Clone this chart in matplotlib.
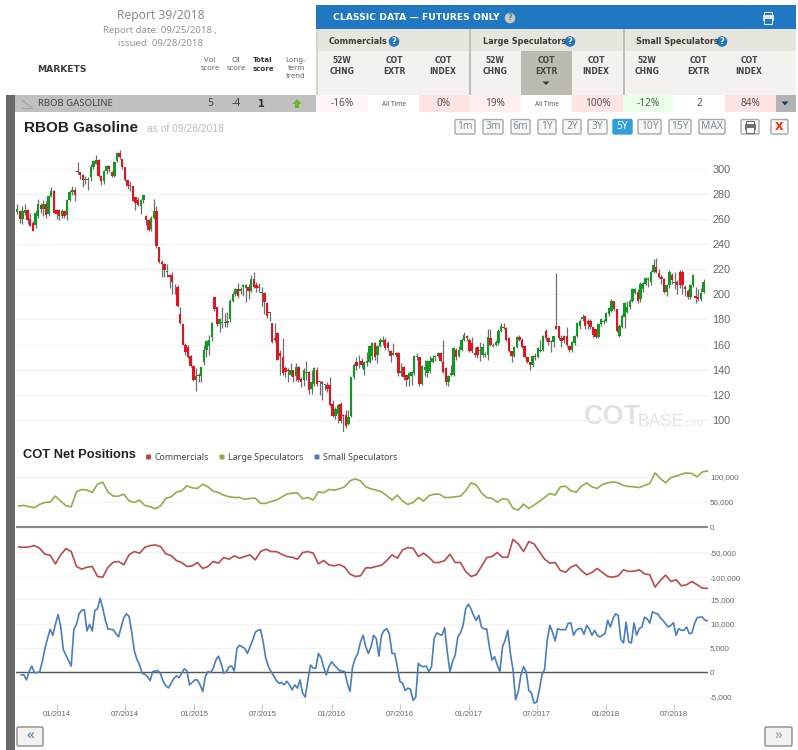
import numpy as np
import pandas as pd
import matplotlib
matplotlib.use('Agg')
import matplotlib.pyplot as plt
import matplotlib.dates as mdates
from matplotlib.patches import Rectangle, FancyBboxPatch, Polygon, Circle

# weekly RBOB candles
opens = [265.5,266,260,265,267,260,257,255,262,271,
    268,272,264,278,282,267,267,262,266,263,
    275,281,283,298,297,295,291,291,293,301,
    304,307,294,290,298,302,297,294,306,312,
    308,301,291,287,286,277,275,270,275,262,
    259,252,261,266,238,226,224,218,215,215,
    207,206,184,176,160,158,151,143,132,136,
    135,146,156,159,166,198,190,176,177,178,
    177,180,195,200,204,203,206,205,206,203,
    212,207,206,201,201,193,186,177,165,169,
    153,150,141,140,136,140,135,142,133,132,
    137,138,125,129,140,130,130,128,128,128,
    113,103,105,113,104,104,97,103,134,146,
    146,147,140,145,146,151,161,152,159,162,
    164,161,155,152,153,153,137,142,136,133,
    135,137,150,150,129,140,137,139,146,150,
    151,153,146,141,130,136,136,156,151,156,
    164,167,164,161,153,158,155,152,152,152,
    165,159,160,161,171,174,173,165,155,151,
    158,166,164,159,150,146,144,151,150,155,
    156,171,165,162,162,175,175,165,167,167,
    159,156,161,167,175,180,183,179,179,174,
    172,166,176,178,179,184,187,195,188,167,
    174,182,186,190,195,201,202,196,204,208,
    211,210,218,222,217,214,212,202,207,215,
    209,210,218,218,206,203,198,207,199,198,
    196,202]
closes = [267.5,260,266,267,259,254,250,265,272,268,
    272,263,278,282,265,264,262,266,262,275,
    281,283,279,297,295,291,291.5,292,301,306,
    307,294,290,298,302,300,294,305,312,309,
    301,291,286,286,274,273,271,275,279,259,
    251,261,266,238.5,226,224,219,218.5,214,210,
    207.5,191,177,160,154,150,143,132,135,135,
    142,156,163,164,177,188,176,180,178,177,
    179,195,200,204,199,204,207,207,203,212,
    206,205,205,202,194,183,185,162,164,148,
    151,137,138,139,140,134,142,132,130,140,
    138,124,130,141,129,131,129,129,125,112,
    103,109,112,99,103,95,102,134,144,143,
    146.5,144,146,147,159,161,150,159,164,164,
    157,157,151,153,152,137,139,134,132,137,
    138,151,151,129,143,142,147,147,149,151,
    153,147,138,130,135,137,157,150,156,164,
    168,165,155,155,152,152,156,158,152.5,166,
    160,160,162,171,175,173,164,155,151,158,
    166,164,158,150,146,144,151,150,157,156,
    167,165,162,163,167,172,165,163,164,160,
    156,162,167,177,179,182,175,176,174,168,
    166,176,180,179,185,189,195,188,171,175,
    183,193,190,195,204,204,195,208,209,213,
    212,218,223,218,214,212,202,207,218,211,
    210,207,207,207,204,197.5,207,215,197,196,
    201,210]
highs = [272,267,270,272,268,265,258,267,276,273,
    275,274,279,285,283,268,268,268,267,276,
    283,286,285,305,297,296,294,293,304,307,
    311,308,295,299,303,303,298,306,313,315,
    308,301,291,290,286,277,277,276,279,263,
    260,262,276,270,238,227,225,224,216,218,
    208,207,190,176,161,160,152,144,141,137,
    142,160,164,168,178,198,190,181,190,185,
    186,196,202,205,209,206,208,208,208,215,
    218,210,209,206,202,194,186,177,177,170,
    156,165,143,141,145,140,145,143,134,141,
    147,139,140,142,142,131,131,129,130,134,
    116,110,113,114,105,108,108,134,145,150,
    152,149,147,154,160,162,162,160,165,167,
    165,163,156,161,154,154,145,143,136,138,
    139,152,153,150,144,148,148,151,152,152,
    154,154,164,142,136,144,158,157,159,165,
    170,168,165,166,158,159,162,161,154,172,
    172,161,164,172,177,177,174,166,155,159,
    167,168,165,160,150,146,152,153,158,164,
    168,172,166,164,167,217,175,168,168,174,
    160,163,168,178,180,184,183,180,180,174,
    172,177,181,180,186,190,196,195,188,176,
    184,194,195,196,205,205,204,210,210,214,
    214,219,228,229,220,215,213,208,219,217,
    218,211,219,219,207,204,208,216,206,204,
    205,212]
lows = [264,257,256,263,256,254,250,253,261,265,
    262,261,262,277,265,260,259,261,261,259,
    274,279,274,296,292,285,288,283,290,300,
    304,293,287,288,296,297,293,293,305,308,
    300,290,284,282,274,267,270,264,273,255,
    250,250,260,237,225,214,214,214,205,200,
    200,190,176,160,152,149,142,131,123,130,
    130,144,150,152,163,187,175,170,173,174,
    174,178,194,199,197,200,199,194,196,202,
    205,202,202,191,184,181,179,161,162,148,
    136,136,134,130,135,130,131,130,126,127,
    132,121,121,127,127,120,116,124,122,111,
    102,101,98,98,90,94,96,102,133,140,
    141,141,136,143,145,148,148,145,158,160,
    156,155,146,152,150,135,135,132,127,127,
    128,136,148,127,128,135,134,137,145,147,
    150,146,137,128,127,135,135,148,150,155,
    163,163,154,153,150,149,147,150,150,148,
    159,158,159,160,170,172,163,154,146,150,
    157,163,157,149,145,140,142,148,149,154,
    155,163,160,154,158,172,164,158,161,158,
    154,154,160,166,172,179,172,172,172,166,
    165,165,175,176,178,183,186,187,170,166,
    173,173,185,188,194,200,193,194,202,207,
    206,207,217,217,213,208,201,199,205,208,
    204,200,205,200,199,196,196,206,193,195,
    195,201]

# net positions in thousands, large / commercials read every 2 weeks
large_spec = [41.6,42.9,40.3,38.3,44.9,48.8,49.5,61.4,51.5,42.2,
    40.3,70.0,74.6,73.3,68.6,85.1,89.1,69.3,61.4,61.4,
    65.3,52.1,48.8,53.5,42.9,40.3,36.3,42.2,56.8,60.1,
    69.3,71.9,81.8,77.9,76.6,85.1,79.9,71.3,68.6,63.4,
    60.1,58.7,58.7,54.8,56.8,57.4,46.9,46.9,50.8,53.5,
    59.4,65.3,67.3,68.0,56.1,58.7,53.5,70.0,68.0,74.6,
    73.3,75.9,79.9,91.7,95.7,91.7,79.9,75.9,73.3,70.0,
    62.0,53.5,63.4,51.5,44.9,48.8,58.7,51.5,62.0,65.3,
    65.3,58.7,58.7,60.1,61.4,71.9,87.8,83.8,68.0,58.7,
    56.8,49.5,56.1,54.8,37.0,33.7,45.5,37.0,43.6,50.8,
    58.7,66.7,63.4,79.9,81.2,71.9,69.3,81.2,87.8,79.9,
    76.6,84.5,87.8,89.8,87.8,82.5,80.5,79.9,78.5,82.5,
    86.5,107.6,96.4,87.8,98.3,101.0,104.9,107.6,106.3,99.7,
    109.6,111.5]
commercials = [-39.6,-40.3,-39.6,-37.0,-42.2,-54.1,-56.1,-73.3,-55.4,-42.9,
    -48.8,-78.5,-83.8,-79.9,-78.5,-98.3,-99.7,-79.9,-70.0,-68.6,
    -75.2,-55.4,-48.8,-52.1,-40.3,-37.0,-35.6,-38.9,-53.5,-56.8,
    -66.7,-70.6,-78.5,-77.2,-70.6,-82.5,-78.5,-68.6,-71.9,-60.7,
    -64.0,-57.4,-62.0,-58.7,-55.4,-65.3,-48.8,-44.2,-48.8,-48.8,
    -54.1,-58.7,-60.1,-64.0,-50.8,-48.8,-52.1,-73.3,-66.7,-75.2,
    -77.2,-74.6,-79.9,-93.7,-98.3,-97.0,-81.2,-81.2,-78.5,-75.9,
    -66.7,-55.4,-62.0,-45.5,-40.9,-42.2,-58.7,-52.1,-60.1,-70.6,
    -70.6,-66.7,-54.1,-70.6,-70.6,-88.4,-98.3,-95.0,-78.5,-60.7,
    -58.7,-50.8,-60.1,-60.1,-24.4,-33.7,-48.8,-29.0,-33.7,-48.8,
    -64.0,-71.9,-70.6,-86.5,-89.8,-79.9,-75.2,-86.5,-95.0,-90.4,
    -82.5,-90.4,-98.3,-99.7,-97.0,-85.1,-88.4,-87.8,-85.1,-93.1,
    -95.0,-119.5,-106.3,-95.7,-108.2,-104.9,-116.8,-114.8,-108.2,-114.8,
    -121.4,-122.1]
# small specs weekly, in thousands
small_spec = [-0.54,-0.54,-1.56,0.14,1.29,-0.07,-0.07,0.07,2.18,4.90,
    6.94,8.84,7.62,9.86,11.90,9.45,4.69,3.47,2.38,1.29,
    8.77,9.86,12.04,12.78,12.85,8.50,9.86,8.50,12.72,13.06,
    15.23,13.19,10.68,8.91,8.84,8.77,7.96,7.28,9.32,11.22,
    12.04,11.49,8.30,4.42,2.65,1.50,-0.20,-0.41,-0.88,-1.70,
    0.14,0.27,0.34,-0.34,-1.90,-2.79,-3.20,-2.24,-1.29,-0.75,
    -1.09,-0.20,0.75,0.27,-2.58,-2.11,-1.56,-1.56,-2.58,-3.94,
    -0.88,0.14,-0.07,0.82,2.52,3.33,1.84,-0.20,0.07,1.16,
    1.29,0.27,4.90,5.58,5.24,4.90,3.88,5.24,6.60,8.23,
    8.64,8.77,6.26,2.86,1.16,0.14,-0.75,-1.70,-2.24,-2.11,
    -2.58,-1.84,-2.58,-3.60,-2.58,-3.26,-1.56,-4.28,-5.10,-1.56,
    1.50,0.88,0.82,3.88,3.06,1.02,-0.54,1.16,2.18,1.50,
    0.95,0.34,0.27,0.14,-2.24,-3.94,1.16,2.86,3.88,6.26,
    7.62,5.24,3.88,5.24,7.62,6.94,3.33,7.62,8.64,8.98,
    7.82,3.88,3.88,1.16,-1.90,-2.24,-3.74,-3.26,-3.47,-5.78,
    -5.10,1.84,1.29,1.16,1.29,0.14,1.16,6.94,8.09,7.82,
    7.62,9.18,4.22,0.14,2.18,3.54,7.28,8.09,9.66,13.06,
    14.01,13.06,11.70,10.68,11.70,9.32,8.91,8.91,5.24,2.52,
    3.20,1.50,0.14,5.24,6.60,8.64,3.88,0.48,-5.64,-3.94,
    -0.54,1.16,0.14,-3.74,-4.28,-6.32,-6.19,-3.60,-0.54,0.61,
    6.60,9.66,8.30,6.46,8.98,8.77,8.77,8.77,10.13,10.13,
    7.62,8.64,8.98,8.98,7.82,9.66,8.98,7.62,8.64,7.62,
    7.28,7.62,7.96,10.68,9.32,11.02,12.04,11.70,6.73,6.05,
    10.34,6.26,6.05,10.13,7.62,8.98,9.32,11.36,11.02,10.13,
    12.44,12.17,12.04,11.22,10.68,10.00,9.32,9.66,10.20,7.62,
    8.98,8.64,8.64,9.32,7.96,8.09,10.00,11.22,11.36,11.36,
    10.68,10.61]

price_ticks = [100,120,140,160,180,200,220,240,260,280,300]
upper_ticks = [-100,-50,0,50,100]
upper_labels = ['-100,000','-50,000','0','50,000','100,000']
lower_ticks = [-5,0,5,10,15]
lower_labels = ['-5,000','0','5,000','10,000','15,000']
date_ticks = ['2014-01-01','2014-07-01','2015-01-01','2015-07-01','2016-01-01',
    '2016-07-01','2017-01-01','2017-07-01','2018-01-01','2018-07-01']

col_heads = [('52W','CHNG',342),('COT','EXTR',394),('COT','INDEX',443),
    ('52W','CHNG',495),('COT','EXTR',546),('COT','INDEX',596),
    ('52W','CHNG',647),('COT','EXTR',698),('COT','INDEX',749)]
row_cells = [(316,368,'#fff6f5','-16%',7.2),(368,419,'white','All Time',4.6),(419,469,'#ffe4e3','0%',7.2),
    (469,521,'#fff0ef','19%',7.2),(521,572,'white','All Time',4.6),(572,623,'#ffe4e3','100%',7.2),
    (623,673,'#eaffe8','-12%',7.2),(673,725,'white','2',7.2),(725,776,'#ffe4e3','84%',7.2)]
buttons = [('1m',455,475),('3m',483,503),('6m',511,530),('1Y',538,556),('2Y',563,581),('3Y',588,607),
    ('5Y',613,632),('10Y',638,661),('15Y',669,691),('MAX',699,725)]

plt.rcParams['font.family'] = ['Noto Sans', 'DejaVu Sans']
W, H = 798, 750
fig = plt.figure(figsize=(W/100, H/100), dpi=100, facecolor='white')

def px_axes(l, t, r, b):
    ax = fig.add_axes([l/W, 1-b/H, (r-l)/W, (b-t)/H])
    ax.patch.set_alpha(0)
    for s in ax.spines.values():
        s.set_visible(False)
    return ax

bg = px_axes(0, 0, W, H)
bg.set_xlim(0, W)
bg.set_ylim(H, 0)
bg.axis('off')

def rect(x0, y0, x1, y1, color):
    bg.add_patch(Rectangle((x0, y0), x1-x0, y1-y0, facecolor=color, edgecolor='none'))

def txt(x, y, s, size=7, color='#555555', weight='normal', ha='center', family=None):
    # Noto Sans has no bold here, bold labels go through DejaVu
    if weight == 'bold' and family is None:
        family = 'DejaVu Sans'
    kw = {'family': family} if family else {}
    bg.text(x, y, s, fontsize=size, color=color, fontweight=weight, ha=ha, va='center', **kw)

def help_dot(x, y, fc='#1f78c1', tc='white'):
    bg.add_patch(Circle((x, y), 5.3, facecolor=fc, edgecolor='none'))
    txt(x, y, '?', 6, tc, 'bold')

def button(x0, x1, y0, y1, label, tc='#7d8f9c', fc='#f7f7f5', ec='#a8a8a8', size=7.4):
    bg.add_patch(FancyBboxPatch((x0, y0), x1-x0, y1-y0, boxstyle='round,pad=0,rounding_size=1.5',
                                facecolor=fc, edgecolor=ec, linewidth=1))
    if label:
        txt((x0+x1)/2, (y0+y1)/2, label, size, tc)

def printer(x, y, c, paper='white'):
    rect(x-4, y-6, x+4, y-2, paper)
    rect(x-5.5, y-2.5, x+5.5, y+3, c)
    rect(x-4, y+1, x+4, y+6, paper)
    bg.add_patch(Rectangle((x-4, y-6), 8, 12, facecolor='none', edgecolor=c, linewidth=0.8))

# header block
txt(161, 15, 'Report 39/2018', 8.7, '#8c8c8c')
txt(160, 30.5, 'Report date: 09/25/2018 ,', 6.9, '#939393')
txt(161, 43, 'issued: 09/28/2018', 6.9, '#939393')
txt(37, 70, 'MARKETS', 6.6, '#3c3c3c', 'bold', ha='left')
txt(210, 60, 'Vol', 5.5, '#666666'); txt(210, 69, 'score', 5.5, '#666666')
txt(236, 60, 'OI', 5.5, '#666666'); txt(236, 69, 'score', 5.5, '#666666')
txt(263, 60, 'Total', 5.1, '#333333', 'bold'); txt(263, 69, 'score', 5.1, '#333333', 'bold')
txt(296, 60, 'Long-', 5.5, '#666666'); txt(296, 69, 'term', 5.5, '#666666'); txt(296, 77, 'trend', 5.5, '#666666')

rect(316, 4.5, 796, 29, '#1f78c1')
rect(316, 29, 796, 51, '#e7e5de')
rect(316, 51, 796, 95, '#f3f2ee')
rect(521, 51, 572, 95, '#bdbab3')
rect(316, 29, 317.5, 95, '#d4d3cd')
rect(469, 29, 471, 95, '#bfbeb8')
rect(622.5, 29, 624.5, 95, '#bfbeb8')
txt(333, 18, 'CLASSIC DATA — FUTURES ONLY', 6.7, 'white', 'bold', ha='left')
help_dot(510, 18, '#c9c9c5', '#5f7f96')
printer(768, 17.5, '#dfe6ea', '#1f78c1')
txt(329, 41.5, 'Commercials', 5.9, '#3c3c3c', 'bold', ha='left')
help_dot(394, 41.5)
txt(483, 41.5, 'Large Speculators', 5.9, '#3c3c3c', 'bold', ha='left')
help_dot(570, 41.5)
txt(636, 41.5, 'Small Speculators', 5.9, '#3c3c3c', 'bold', ha='left')
help_dot(722, 41.5)
for top, bot, x in col_heads:
    txt(x, 60.5, top, 5.5, '#444444', 'bold')
    txt(x, 72, bot, 5.5, '#444444', 'bold')
bg.add_patch(Polygon([[542.5, 81.5], [549.5, 81.5], [546, 85]], facecolor='#333333', edgecolor='none'))

# market row
rect(6, 95, 15, 750, '#6c696c')
rect(15, 95, 316, 112, '#c0c0c0')
bg.plot([22, 32], [100, 108], color='#bb9a9a', lw=0.8)
bg.plot([22, 32], [108, 108], color='#a7a7a7', lw=0.8)
txt(38, 104, 'RBOB GASOLINE', 6.9, '#444444', ha='left')
txt(210, 104, '5', 7.4, '#444444')
txt(236, 104, '-4', 7.4, '#444444')
txt(261, 104, '1', 7, '#333333', 'bold')
bg.add_patch(Polygon([[297, 99], [301.5, 104], [299, 104], [299, 108], [295, 108], [295, 104], [292.5, 104]],
                     facecolor='#6fb51e', edgecolor='none'))
for x0, x1, c, s, sz in row_cells:
    rect(x0, 95, x1, 112, c)
    txt((x0+x1)/2, 104, s, sz, '#555555')
rect(776, 95, 796, 112, '#b3b3b3')
bg.add_patch(Polygon([[781.5, 101.5], [788.5, 101.5], [785, 105.5]], facecolor='#1a3c7c', edgecolor='none'))

# chart title and range buttons
txt(23.5, 127.5, 'RBOB Gasoline', 11, '#222222', 'bold', ha='left', family='Liberation Sans')
txt(147, 129.5, 'as of 09/28/2018', 7.4, '#bcbcbc', ha='left', family='Liberation Sans')
for label, x0, x1 in buttons:
    if label == '5Y':
        button(x0, x1, 119.5, 134, label, 'white', '#2e9fdc', '#2e9fdc')
    else:
        button(x0, x1, 119.5, 134, label)
button(741, 759, 119.5, 134, '')
printer(750, 126.5, '#6e6e6e')
button(771, 788, 119.5, 134, '')
txt(779.5, 127, 'X', 8, '#f03010', 'bold')

# bottom nav
button(17, 43, 727, 746, '«', '#3d7fc0', '#f3f2ee', '#8a8a8a', 11)
button(765, 792, 727, 746, '»', '#8f9aa5', '#f3f2ee', '#8a8a8a', 11)

# COT legend row
txt(23, 455, 'COT Net Positions', 9.3, '#222222', 'bold', ha='left', family='Liberation Sans')
for x, c, name in [(148.5, '#b84c49', 'Commercials'), (222, '#8fae4e', 'Large Speculators'), (317, '#4a7ebb', 'Small Speculators')]:
    bg.add_patch(FancyBboxPatch((x-2.5, 454.5), 5, 5, boxstyle='round,pad=0,rounding_size=1', facecolor=c, edgecolor='none'))
    txt(x+6, 457, name, 6.4, '#444444', ha='left')

# watermark
txt(584, 417.5, 'COT', 19.5, '#e2e2e2', 'bold', ha='left', family='Liberation Sans')
txt(638, 421.5, 'BASE', 12.5, '#e2e2e2', ha='left', family='Liberation Sans')
txt(683, 424.5, '.COM', 5.5, '#e6e6e6', ha='left', family='Liberation Sans')

# shared date scale
px_per_day = 0.3757
jan14 = mdates.date2num(pd.Timestamp('2014-01-01'))
xlim = (jan14 - (57.3-16)/px_per_day, jan14 + (708-57.3)/px_per_day)
tick_nums = mdates.date2num(pd.to_datetime(date_ticks))

# price panel
price = px_axes(16, 145, 708, 432)
price.set_xlim(xlim)
price.set_ylim(100+(420-432)/1.2571, 100+(420-145)/1.2571)
candle_dates = mdates.date2num(pd.date_range(end='2018-09-17', periods=len(closes), freq='7D'))
o, c, hi, lo = map(np.array, (opens, closes, highs, lows))
price.vlines(candle_dates, lo, hi, color='#6f6f6f', lw=0.9, zorder=2)
body = np.where(c >= o, '#0f9a22', '#e3141f')
price.bar(candle_dates, np.abs(c-o), bottom=np.minimum(o, c), width=6.4, color=body, linewidth=0, zorder=3)
price.yaxis.tick_right()
price.set_yticks(price_ticks)
price.set_xticks([])
price.tick_params(axis='y', length=0, pad=3, labelsize=7.8, labelcolor='#666666')
for t in price.get_yticklabels():
    t.set_family('Liberation Sans')
price.grid(axis='y', color='#f3f3f3', lw=1)
price.set_axisbelow(True)

# large specs and commercials
upper = px_axes(16, 470, 708, 596)
upper.set_xlim(xlim)
upper.set_ylim((527-596)/0.503, (527-470)/0.503)
biweek_dates = pd.date_range(end='2018-09-28', periods=len(large_spec), freq='14D')
upper.plot(biweek_dates, large_spec, color='#8fae4e', lw=1.2, zorder=3)
upper.plot(biweek_dates, commercials, color='#b84c49', lw=1.2, zorder=3)
upper.axhline(0, color='#8a8a8a', lw=1.5, zorder=2)
upper.yaxis.tick_right()
upper.set_yticks(upper_ticks)
upper.set_yticklabels(upper_labels, family='Liberation Sans')
upper.set_xticks([])
upper.tick_params(axis='y', length=0, pad=1.5, labelsize=5.8, labelcolor='#666666')
upper.grid(axis='y', color='#f3f3f3', lw=1)
upper.set_axisbelow(True)

# small specs
lower = px_axes(16, 596, 708, 704)
lower.set_xlim(xlim)
lower.set_ylim((672.3-704)/4.86, (672.3-596)/4.86)
week_dates = pd.date_range(end='2018-09-28', periods=len(small_spec), freq='7D')
lower.plot(week_dates, small_spec, color='#4a7ebb', lw=1.2, zorder=3)
lower.axhline(0, color='#555555', lw=1.0, zorder=2)
lower.yaxis.tick_right()
lower.set_yticks(lower_ticks)
lower.set_yticklabels(lower_labels, family='Liberation Sans')
lower.set_xticks(tick_nums)
lower.set_xticklabels([pd.Timestamp(d).strftime('%m/%Y') for d in date_ticks], family='Liberation Sans')
lower.tick_params(axis='y', length=0, pad=1.5, labelsize=5.8, labelcolor='#666666')
lower.tick_params(axis='x', length=4.3, width=0.8, color='#c8c8c8', pad=0.5, labelsize=5.6, labelcolor='#666666')
lower.grid(axis='y', color='#f3f3f3', lw=1)
lower.set_axisbelow(True)

fig.savefig('out.png', dpi=100, facecolor='white')
